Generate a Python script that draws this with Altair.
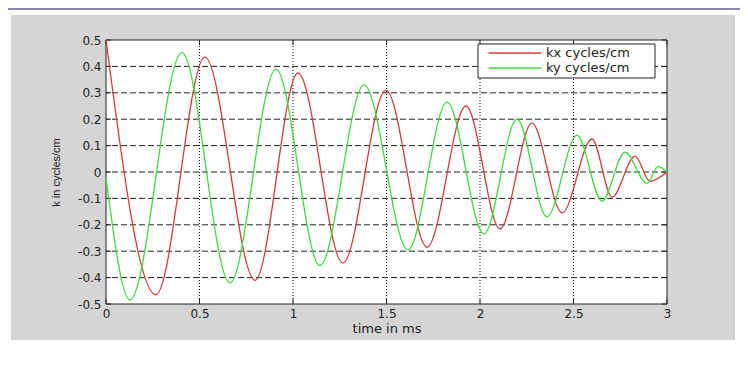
import altair as alt
import pandas as pd

# ---- data ----
series_names = ["kx cycles/cm", "ky cycles/cm"]
kx_t = [0.0, 0.267, 0.529, 0.797, 1.027, 1.267, 1.497, 1.717, 1.925, 2.107, 2.278, 2.439, 2.599, 2.706, 2.829, 2.909, 3.0]
kx_v = [0.5, -0.465, 0.435, -0.41, 0.375, -0.345, 0.31, -0.285, 0.25, -0.215, 0.185, -0.155, 0.125, -0.095, 0.06, -0.035, 0.0]
ky_t = [0.0, 0.128, 0.406, 0.663, 0.909, 1.144, 1.380, 1.615, 1.824, 2.021, 2.198, 2.358, 2.519, 2.652, 2.775, 2.893, 2.952, 3.0]
ky_v = [-0.02, -0.485, 0.452, -0.42, 0.39, -0.355, 0.33, -0.295, 0.265, -0.235, 0.2, -0.17, 0.14, -0.11, 0.075, -0.043, 0.02, 0.0]
x_ticks = [0, 0.5, 1, 1.5, 2, 2.5, 3]
y_ticks = [-0.5, -0.4, -0.3, -0.2, -0.1, 0, 0.1, 0.2, 0.3, 0.4, 0.5]
x_grid = [0.5, 1, 1.5, 2, 2.5]
y_grid = [-0.4, -0.3, -0.2, -0.1, 0, 0.1, 0.2, 0.3, 0.4]

RED = "#d43c3c"
GREEN = "#3ddc3d"
W, H = 561, 264
TICK = 5
WIDE = "DejaVu Sans"
NARROW = "Liberation Sans"

df = pd.DataFrame({
    "t": kx_t + ky_t,
    "v": kx_v + ky_v,
    "series": [series_names[0]] * len(kx_t) + [series_names[1]] * len(ky_t),
})

xs = alt.Scale(domain=[0, 3], nice=False, zero=False)
ys = alt.Scale(domain=[-0.5, 0.5], nice=False, zero=False)

one = pd.DataFrame({"a": [0]})

# figure background (gray panel) and top purple rule
bg = alt.Chart(one).mark_rect(color="#d5d5d5").encode(
    x=alt.value(-95), x2=alt.value(629), y=alt.value(-25), y2=alt.value(300)
)
topbar = alt.Chart(one).mark_rect(color="#8787b7").encode(
    x=alt.value(-98), x2=alt.value(634), y=alt.value(-32), y2=alt.value(-30)
)
# opaque legend box (drawn above the curves, below the legend entries)
legend_box = alt.Chart(one).mark_rect(fill="white", stroke="#222", strokeWidth=1).encode(
    x=alt.value(372), x2=alt.value(549), y=alt.value(4), y2=alt.value(38)
)

axis_common = dict(
    labelFont=WIDE, labelFontSize=12, labelColor="#222",
    titleFontWeight="normal", titleColor="#222",
    domain=False, ticks=False, grid=False, zindex=1,
    labelOverlap=False, labelFlush=False,
    labelExpr="'' + datum.value",
)

frame = alt.Chart(pd.DataFrame({"x0": [0], "x1": [3], "y0": [-0.5], "y1": [0.5]})).mark_rect(
    fill="white", stroke="#222", strokeWidth=1
).encode(
    x=alt.X("x0:Q", scale=xs, axis=alt.Axis(values=x_ticks, tickCount=len(x_ticks),
                                             title="time in ms",
                                             titleFont=WIDE, titleFontSize=13,
                                             labelPadding=4, titlePadding=3, **axis_common)),
    x2="x1:Q",
    y=alt.Y("y0:Q", scale=ys, axis=alt.Axis(values=y_ticks, tickCount=len(y_ticks),
                                             title="k in cycles/cm",
                                             titleFont=NARROW, titleFontSize=11,
                                             labelPadding=5, titlePadding=16, **axis_common)),
    y2="y1:Q",
)

vgrid = alt.Chart(pd.DataFrame({"t": x_grid})).mark_rule(
    color="#111", strokeDash=[1, 2], strokeWidth=1
).encode(x=alt.X("t:Q", scale=xs))

hgrid = alt.Chart(pd.DataFrame({"v": y_grid})).mark_rule(
    color="#222", strokeDash=[6, 3], strokeWidth=1
).encode(y=alt.Y("v:Q", scale=ys))

# inward tick marks on all four sides (MATLAB box style)
xt_df = pd.DataFrame({"t": x_ticks})
yt_df = pd.DataFrame({"v": y_ticks})
tick_bottom = alt.Chart(xt_df).mark_rule(color="#222").encode(
    x=alt.X("t:Q", scale=xs), y=alt.value(H - TICK), y2=alt.value(H))
tick_top = alt.Chart(xt_df).mark_rule(color="#222").encode(
    x=alt.X("t:Q", scale=xs), y=alt.value(0), y2=alt.value(TICK))
tick_left = alt.Chart(yt_df).mark_rule(color="#222").encode(
    y=alt.Y("v:Q", scale=ys), x=alt.value(0), x2=alt.value(TICK))
tick_right = alt.Chart(yt_df).mark_rule(color="#222").encode(
    y=alt.Y("v:Q", scale=ys), x=alt.value(W - TICK), x2=alt.value(W))

lines = alt.Chart(df).mark_line(interpolate="monotone", strokeWidth=1.3).encode(
    x=alt.X("t:Q", scale=xs),
    y=alt.Y("v:Q", scale=ys),
    color=alt.Color(
        "series:N",
        scale=alt.Scale(domain=series_names, range=[RED, GREEN]),
        legend=alt.Legend(
            title=None, orient="none", legendX=375, legendY=5.5,
            fillColor="transparent", strokeColor="transparent", padding=0,
            symbolType="M-0.13,0H6.93", symbolSize=225, symbolStrokeWidth=1.3,
            labelFont=WIDE, labelFontSize=13, labelColor="#222", labelOffset=48,
            clipHeight=15, rowPadding=0,
        ),
    ),
)

chart = alt.layer(
    bg, topbar, frame, vgrid, hgrid,
    tick_bottom, tick_top, tick_left, tick_right,
    lines, legend_box,
).properties(
    width=W, height=H,
    padding={"left": 98, "top": 32, "right": 73, "bottom": 54},
    autosize="none",
    background="white",
).configure_view(stroke="transparent")

chart.save("out.html", embed_options={"renderer": "svg", "actions": False})
